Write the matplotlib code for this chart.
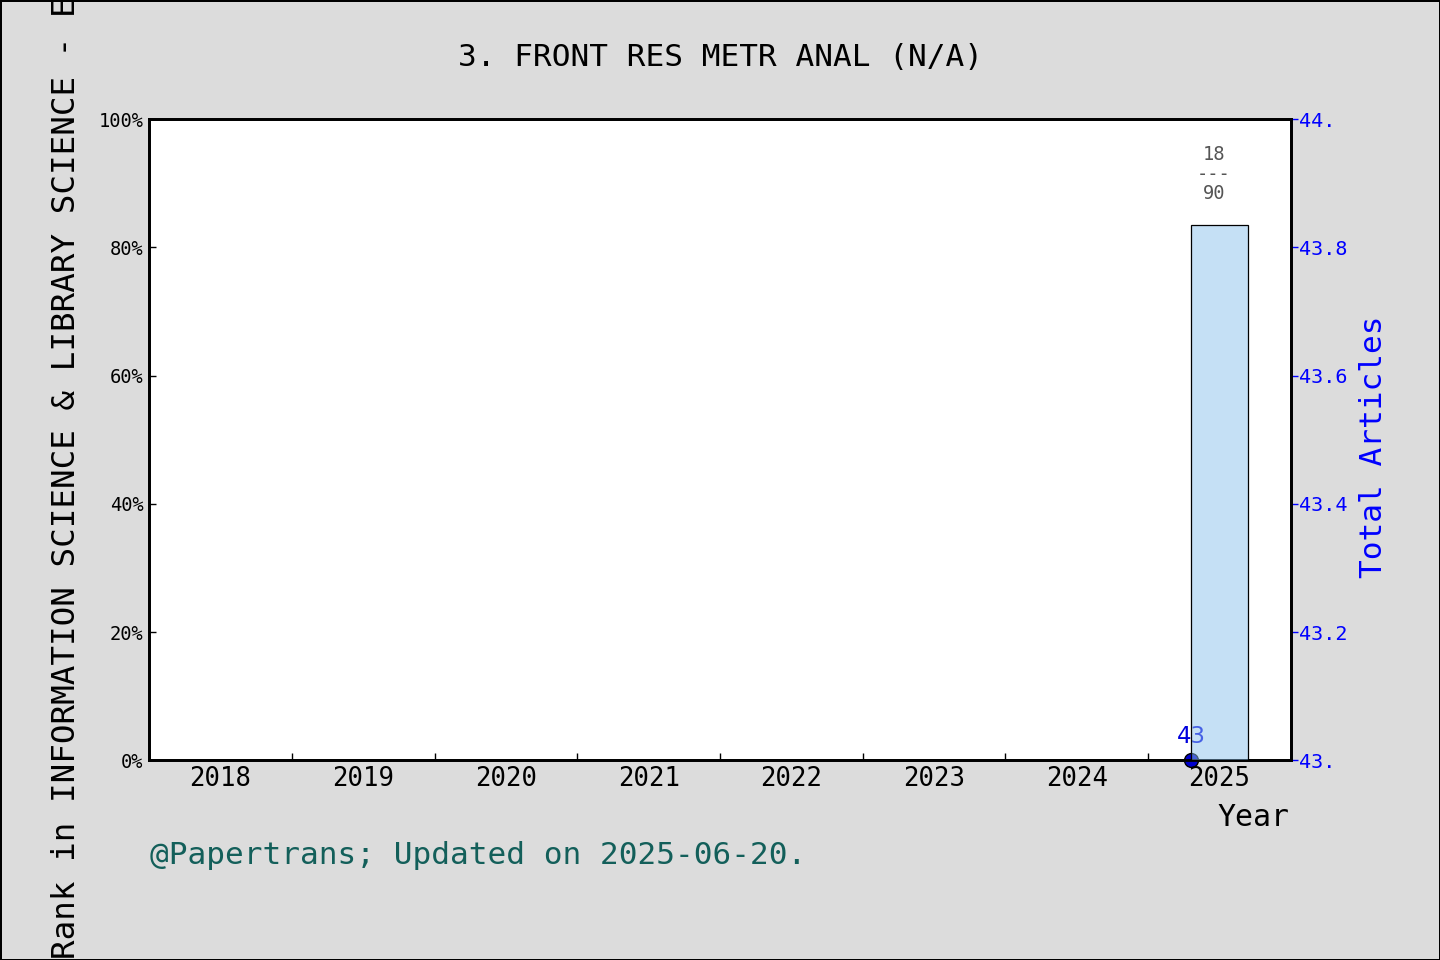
import matplotlib
matplotlib.use("Agg")
from matplotlib import pyplot as plt
import numpy as np

plt.rcParams["font.family"] = ["DejaVu Sans Mono"]

# data
years = [2018, 2019, 2020, 2021, 2022, 2023, 2024, 2025]
bar_years = [2025]
rank_pct = [83.5]
rank_pos = [18]
rank_total = [90]
article_years = [2025]
total_articles = [43]

left_ticks = [0, 20, 40, 60, 80, 100]
left_labels = ["0%", "20%", "40%", "60%", "80%", "100%"]
right_ticks = [43.0, 43.2, 43.4, 43.6, 43.8, 44.0]
right_labels = ["43.", "43.2", "43.4", "43.6", "43.8", "44."]

fig = plt.figure(figsize=(14.4, 9.6), dpi=100)
fig.patch.set_facecolor("#dcdcdc")
fig.patch.set_edgecolor("black")
fig.patch.set_linewidth(2)

ax = fig.add_axes([0.1035, 0.208, 0.793, 0.668])
ax2 = ax.twinx()
ax.set_zorder(ax2.get_zorder() + 1)
ax.patch.set_visible(False)
ax2.patch.set_visible(True)
ax2.patch.set_facecolor("white")

# bars (rank percentage)
ax.bar(bar_years, rank_pct, width=0.4, facecolor=(0.55, 0.76, 0.93, 0.5),
       edgecolor="black", linewidth=0.9, zorder=3)
for x, h, r, t in zip(bar_years, rank_pct, rank_pos, rank_total):
    ax.text(x - 0.04, 91.4, f"{r}\n---\n{t}", ha="center", va="center",
            fontsize=13.5, color="#555555", linespacing=1.05)

ax.set_xlim(2017.5, 2025.5)
ax.set_ylim(0, 100)
ax.set_xticks(years)
ax.set_xticklabels([str(y) for y in years], fontsize=18.5)
ax.set_xticks([y + 0.5 for y in years[:-1]], minor=True)
ax.tick_params(axis="x", which="major", length=0, pad=4)
ax.tick_params(axis="x", which="minor", direction="in", length=5, width=1)
ax.set_yticks(left_ticks)
ax.set_yticklabels(left_labels, fontsize=13.5)
ax.tick_params(axis="y", direction="in", length=5, width=1, pad=4)

# line (total articles)
ax2.plot([x - 0.2 for x in article_years], total_articles, marker="o",
         color="#0000cc", markeredgecolor="black", markersize=10,
         clip_on=False, zorder=5)
for x, v in zip(article_years, total_articles):
    ax2.annotate(str(v), (x - 0.2, v), xytext=(0, 9), textcoords="offset points",
                 ha="center", va="bottom", fontsize=16.5, color="#0000dd",
                 family="DejaVu Sans")
ax2.set_ylim(43, 44)
ax2.set_yticks(right_ticks)
ax2.set_yticklabels(right_labels, fontsize=14.5, color="blue")
ax2.tick_params(axis="y", direction="out", length=5, width=1, colors="blue", pad=1)

for a in (ax, ax2):
    for s in a.spines.values():
        s.set_linewidth(2)

fig.text(0.5, 0.94, "3. FRONT RES METR ANAL (N/A)", ha="center", va="center",
         fontsize=22.4)
fig.text(67 / 1440, 0.533, "Rank in INFORMATION SCIENCE & LIBRARY SCIENCE - ESCI",
         rotation=90, ha="center", va="center", fontsize=23.4)
fig.text(1373 / 1440, 0.535, "Total Articles", rotation=90, ha="center",
         va="center", fontsize=22.4, color="blue")
fig.text(1289 / 1440, 1 - 817 / 960, "Year", ha="right", va="center", fontsize=21.5)
fig.text(150 / 1440, 1 - 855 / 960, "@Papertrans; Updated on 2025-06-20.",
         ha="left", va="center", fontsize=22.4, color="#135f5a")

fig.savefig("out.png", dpi=100, facecolor=fig.get_facecolor(),
            edgecolor=fig.get_edgecolor())
